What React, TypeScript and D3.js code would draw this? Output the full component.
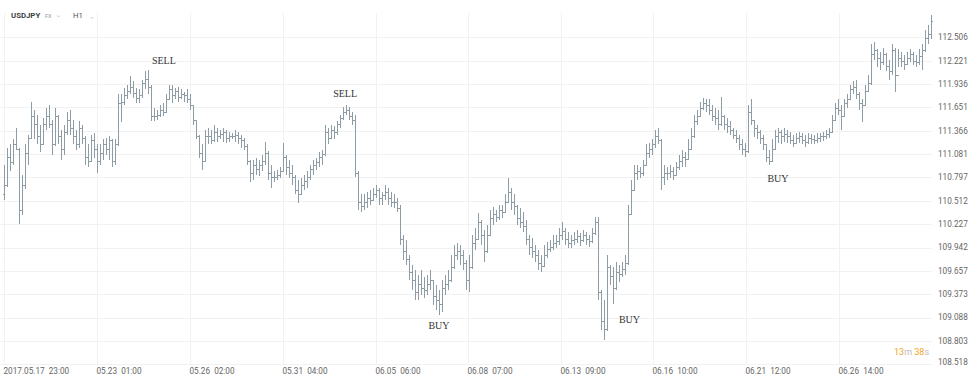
import React from "react";
import * as d3 from "d3";

const W = 979;
const H = 383;

// OHLC (open = previous close), H1 USDJPY, ~every 2-3 hours
const highs = [
  110.95,111.16,111.20,111.26,111.40,111.16,110.83,111.20,111.32,111.72,
  111.62,111.56,111.44,111.52,111.65,111.68,111.50,111.65,111.56,111.38,
  111.44,111.60,111.62,111.50,111.38,111.48,111.44,111.30,111.20,111.32,
  111.34,111.20,111.20,111.26,111.28,111.30,111.26,111.26,111.81,111.81,
  111.89,111.93,112.03,111.97,111.89,111.87,111.99,112.09,112.11,111.92,
  111.65,111.62,111.68,111.71,111.81,111.93,111.92,111.89,111.90,111.87,
  111.84,111.87,111.81,111.68,111.50,111.32,111.20,111.38,111.40,111.38,
  111.44,111.40,111.38,111.40,111.38,111.35,111.34,111.38,111.35,111.32,
  111.28,111.20,111.01,111.01,111.04,111.01,111.07,111.23,111.12,110.95,
  110.87,110.89,110.92,111.22,111.07,111.01,110.95,110.83,110.77,110.79,
  110.83,110.87,110.95,111.01,111.04,111.11,111.13,111.44,111.40,111.44,
  111.42,111.48,111.56,111.66,111.68,111.66,111.60,111.56,110.87,110.59,
  110.59,110.62,110.65,110.67,110.71,110.67,110.62,110.71,110.67,110.62,
  110.59,110.55,110.46,110.10,110.04,109.85,109.73,109.67,109.61,109.67,
  109.58,109.61,109.67,109.55,109.49,109.43,109.55,109.61,109.67,109.85,
  109.97,110.00,109.97,109.91,109.79,109.85,110.10,110.18,110.36,110.28,
  110.16,110.22,110.40,110.44,110.40,110.46,110.46,110.59,110.79,110.67,
  110.59,110.46,110.43,110.38,110.28,110.10,110.06,109.97,109.91,109.85,
  109.97,110.01,110.04,110.10,110.10,110.18,110.26,110.18,110.13,110.10,
  110.13,110.16,110.12,110.16,110.13,110.10,110.18,110.32,110.31,109.43,
  109.30,109.85,109.73,109.70,109.77,109.73,109.77,109.85,110.46,110.77,
  110.95,110.95,110.92,111.01,111.20,111.22,111.26,111.38,111.40,111.27,
  110.95,110.92,110.95,110.93,110.99,111.07,111.13,111.11,111.26,111.40,
  111.56,111.62,111.72,111.77,111.75,111.75,111.68,111.65,111.62,111.78,
  111.56,111.52,111.48,111.40,111.38,111.32,111.26,111.22,111.68,111.75,
  111.50,111.44,111.38,111.32,111.20,111.13,111.26,111.38,111.40,111.38,
  111.40,111.38,111.35,111.32,111.34,111.35,111.34,111.32,111.34,111.33,
  111.32,111.34,111.34,111.35,111.38,111.40,111.56,111.71,111.75,111.68,
  111.75,111.81,111.93,111.97,111.99,111.84,111.75,111.93,112.05,112.42,
  112.45,112.36,112.33,112.38,112.32,112.23,112.42,112.37,112.36,112.33,
  112.29,112.33,112.36,112.33,112.29,112.36,112.42,112.60,112.66,112.78,
];

const lows = [
  110.52,110.68,110.87,110.95,111.13,110.23,110.34,110.66,110.95,111.26,
  111.26,111.20,111.11,111.20,111.38,111.40,111.07,111.18,111.20,111.01,
  111.07,111.32,111.32,111.20,111.13,111.16,111.20,110.95,110.92,110.98,
  111.04,110.85,110.95,111.01,111.07,111.01,110.92,110.95,111.18,111.47,
  111.68,111.75,111.81,111.77,111.71,111.71,111.77,111.87,111.81,111.48,
  111.48,111.50,111.53,111.55,111.58,111.75,111.71,111.75,111.72,111.75,
  111.72,111.70,111.62,111.44,111.26,111.04,110.89,110.98,111.20,111.20,
  111.23,111.23,111.26,111.23,111.22,111.23,111.26,111.23,111.20,111.16,
  111.13,110.95,110.74,110.77,110.83,110.81,110.87,110.95,110.77,110.67,
  110.74,110.77,110.79,110.86,110.83,110.79,110.71,110.59,110.49,110.59,
  110.65,110.67,110.77,110.83,110.89,110.92,110.95,111.06,111.20,111.26,
  111.26,111.32,111.40,111.50,111.56,111.50,111.44,110.80,110.40,110.38,
  110.40,110.43,110.46,110.52,110.55,110.46,110.46,110.52,110.46,110.44,
  110.43,110.38,109.97,109.79,109.73,109.55,109.43,109.30,109.30,109.36,
  109.33,109.36,109.43,109.24,109.18,109.12,109.16,109.36,109.43,109.52,
  109.68,109.79,109.73,109.67,109.43,109.40,109.68,109.91,110.03,109.97,
  109.77,109.88,110.08,110.22,110.26,110.28,110.30,110.38,110.48,110.40,
  110.34,110.22,110.18,110.13,109.97,109.85,109.82,109.77,109.67,109.64,
  109.70,109.82,109.89,109.91,109.94,109.97,110.04,109.97,109.94,109.94,
  109.97,110.00,109.96,110.01,109.97,109.95,110.00,110.10,109.30,108.94,
  108.81,108.93,109.49,109.26,109.43,109.52,109.58,109.61,109.73,110.34,
  110.63,110.77,110.79,110.82,110.95,111.04,111.07,111.16,111.20,110.65,
  110.71,110.77,110.79,110.77,110.82,110.89,110.92,110.93,111.01,111.13,
  111.28,111.44,111.53,111.62,111.60,111.56,111.48,111.44,111.38,111.43,
  111.38,111.34,111.32,111.26,111.22,111.13,111.07,111.05,111.10,111.44,
  111.29,111.26,111.20,111.13,110.99,110.95,110.98,111.13,111.22,111.20,
  111.23,111.22,111.20,111.17,111.20,111.22,111.20,111.17,111.21,111.20,
  111.20,111.22,111.23,111.24,111.26,111.28,111.35,111.48,111.56,111.38,
  111.53,111.65,111.75,111.81,111.75,111.62,111.47,111.68,111.84,111.93,
  112.23,112.14,112.11,112.17,112.09,111.99,112.05,111.84,112.14,112.14,
  112.11,112.17,112.21,112.17,112.14,112.17,112.11,112.33,112.42,112.48,
];

const closes = [
  110.70,111.05,110.98,111.20,111.15,110.40,110.70,111.10,111.28,111.55,
  111.45,111.30,111.20,111.45,111.55,111.45,111.20,111.55,111.30,111.15,
  111.35,111.50,111.40,111.30,111.20,111.40,111.28,111.05,111.00,111.25,
  111.15,111.00,111.10,111.20,111.15,111.25,111.00,111.20,111.70,111.72,
  111.80,111.85,111.90,111.83,111.76,111.80,111.95,112.00,111.90,111.55,
  111.55,111.56,111.62,111.60,111.75,111.88,111.80,111.85,111.78,111.82,
  111.80,111.75,111.68,111.50,111.30,111.10,111.00,111.30,111.30,111.25,
  111.35,111.30,111.33,111.35,111.28,111.30,111.30,111.32,111.28,111.25,
  111.18,111.00,110.85,110.95,110.90,110.95,111.00,111.10,110.85,110.80,
  110.80,110.83,110.88,111.05,110.92,110.85,110.80,110.65,110.60,110.70,
  110.75,110.80,110.90,110.95,110.98,111.05,111.08,111.35,111.28,111.38,
  111.35,111.45,111.52,111.60,111.62,111.55,111.50,110.85,110.50,110.45,
  110.50,110.55,110.52,110.60,110.65,110.55,110.58,110.62,110.55,110.50,
  110.50,110.42,110.05,109.90,109.80,109.65,109.55,109.40,109.50,109.45,
  109.42,109.50,109.55,109.35,109.30,109.25,109.45,109.50,109.55,109.70,
  109.85,109.90,109.85,109.75,109.55,109.70,110.00,110.05,110.25,110.10,
  109.90,110.10,110.30,110.35,110.32,110.40,110.38,110.50,110.62,110.50,
  110.45,110.30,110.25,110.20,110.05,109.95,109.90,109.85,109.75,109.72,
  109.85,109.92,109.95,110.00,110.02,110.10,110.15,110.05,110.00,110.03,
  110.05,110.08,110.03,110.10,110.05,110.02,110.12,110.25,109.40,109.05,
  108.95,109.70,109.60,109.45,109.65,109.62,109.68,109.75,110.35,110.65,
  110.85,110.88,110.85,110.95,111.10,111.15,111.20,111.30,111.25,110.80,
  110.85,110.85,110.88,110.83,110.92,111.00,111.05,111.02,111.15,111.30,
  111.48,111.55,111.65,111.70,111.68,111.62,111.55,111.52,111.45,111.55,
  111.45,111.42,111.38,111.32,111.28,111.20,111.15,111.12,111.60,111.50,
  111.40,111.35,111.28,111.20,111.05,111.00,111.15,111.30,111.35,111.30,
  111.33,111.30,111.25,111.22,111.28,111.30,111.25,111.23,111.28,111.26,
  111.25,111.28,111.30,111.30,111.33,111.35,111.50,111.65,111.62,111.55,
  111.70,111.75,111.88,111.90,111.82,111.70,111.68,111.85,111.95,112.30,
  112.35,112.25,112.20,112.30,112.15,112.10,112.35,112.05,112.25,112.22,
  112.18,112.25,112.30,112.22,112.20,112.28,112.35,112.50,112.55,112.70,
];

const firstOpen = 110.6;

const yTicks = [
  112.506, 112.221, 111.936, 111.651, 111.366, 111.081, 110.797, 110.512,
  110.227, 109.942, 109.657, 109.373, 109.088, 108.803, 108.518,
];

const xTickIndex = [0, 31, 62, 93, 124, 154.7, 185.7, 216.3, 247.3, 278.3];
const xTickLabels = [
  "2017.05.17  23:00",
  "05.23  01:00",
  "05.26  02:00",
  "05.31  04:00",
  "06.05  06:00",
  "06.08  07:00",
  "06.13  09:00",
  "06.16  10:00",
  "06.21  12:00",
  "06.26  14:00",
];

const signalLabels = ["SELL", "SELL", "BUY", "BUY", "BUY"];
const signalIndex = [53.3, 113.7, 145, 208.5, 258];
const signalPrice = [112.22, 111.82, 108.99, 109.07, 110.79];

const SANS = "Roboto, 'Noto Sans', 'Open Sans', sans-serif";
const SERIF = "'Liberation Serif', 'DejaVu Serif', serif";

export default function App() {
  const x = d3.scaleLinear().domain([0, highs.length - 1]).range([4, 931]);
  const y = d3.scaleLinear().domain([108.803, 112.506]).range([341, 37.3]);
  const plotRight = 932;
  const plotBottom = Math.round(y(108.518));

  const p = d3.path();
  highs.forEach((h, i) => {
    const xi = Math.round(x(i)) + 0.5;
    const o = i > 0 ? closes[i - 1] : firstOpen;
    const yh = Math.round(y(h));
    const yl = Math.round(y(lows[i]));
    p.moveTo(xi, yh);
    p.lineTo(xi, Math.max(yl, yh + 1));
    const yo = Math.round(y(o)) + 0.5;
    const yc = Math.round(y(closes[i])) + 0.5;
    p.moveTo(xi - 1.5, yo);
    p.lineTo(xi, yo);
    p.moveTo(xi, yc);
    p.lineTo(xi + 1.5, yc);
  });

  return (
    <svg
      width={W}
      height={H}
      viewBox={`0 0 ${W} ${H}`}
      style={{ position: "absolute", left: 0, top: 0, display: "block", background: "#fff" }}
    >
      <rect x={0} y={0} width={W} height={H} fill="#fff" />
      {/* horizontal grid */}
      {yTicks.map((t) => {
        const yy = Math.round(y(t)) + 0.5;
        return (
          <line key={"hg" + t} x1={0} x2={plotRight} y1={yy} y2={yy} stroke="#f1f1f1" strokeWidth={1} />
        );
      })}
      {/* vertical grid */}
      {xTickIndex.map((ti) => {
        const xx = Math.round(x(ti)) + 0.5;
        return (
          <line key={"vg" + ti} x1={xx} x2={xx} y1={13} y2={plotBottom} stroke="#f1f1f1" strokeWidth={1} />
        );
      })}

      {/* bars */}
      <path d={p.toString()} fill="none" stroke="#8e9ca5" strokeWidth={1} shapeRendering="crispEdges" />

      {/* y labels */}
      {yTicks.map((t, k) => {
        const yy = Math.min(y(t), 362);
        return (
          <text
            key={"yl" + t}
            x={938}
            y={yy}
            dy="0.35em"
            fontFamily={SANS}
            fontSize={8.2}
            fill="#666"
          >
            {t.toFixed(3)}
          </text>
        );
      })}

      {/* x labels */}
      {xTickIndex.map((ti, k) => (
        <text
          key={"xl" + ti}
          x={Math.round(x(ti)) - 0.5}
          y={373.5}
          fontFamily={SANS}
          fontSize={8.2}
          fill="#666"
          style={{ whiteSpace: "pre" }}
        >
          {xTickLabels[k]}
        </text>
      ))}

      {/* signals */}
      {signalLabels.map((s, k) => (
        <text
          key={"sg" + k}
          x={x(signalIndex[k])}
          y={y(signalPrice[k])}
          dy="0.35em"
          textAnchor="middle"
          fontFamily={SERIF}
          fontSize={10}
          fill="#333"
        >
          {s}
        </text>
      ))}

      {/* header */}
      <text x={11} y={18} fontFamily={SANS} fontSize={7.8} fontWeight={700} fill="#3a3f44">
        USDJPY
      </text>
      <text x={45} y={18} fontFamily={SANS} fontSize={5.5} fill="#8a98a8">
        FX
      </text>
      <path d="M57,15.5 L58.5,17 L60,15.5" fill="none" stroke="#bbb" strokeWidth={0.8} />
      <text x={73} y={18} fontFamily={SANS} fontSize={7.8} fill="#555">
        H1
      </text>
      <path d="M90.5,17 L92,18.5 L93.5,17" fill="none" stroke="#bbb" strokeWidth={0.8} />

      {/* countdown */}
      <text x={894} y={355} fontFamily={SANS} fontSize={9}>
        <tspan fill="#f5a623">13</tspan>
        <tspan fill="#bbb">m </tspan>
        <tspan fill="#f5a623">38</tspan>
        <tspan fill="#bbb">s</tspan>
      </text>
    </svg>
  );
}
